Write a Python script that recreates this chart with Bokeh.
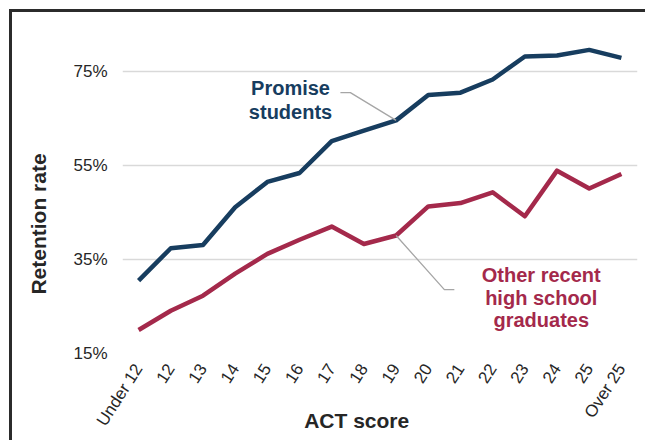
import math
from bokeh.plotting import figure
from bokeh.models import FactorRange, Range1d, FixedTicker, CustomJSTickFormatter
from bokeh.core.properties import value
from bokeh.embed import file_html
from bokeh.resources import INLINE

categories = ["Under 12", "12", "13", "14", "15", "16", "17", "18", "19",
              "20", "21", "22", "23", "24", "25", "Over 25"]
promise = [30.5, 37.4, 38.1, 46.1, 51.5, 53.4, 60.2, 62.4, 64.6,
           70.0, 70.5, 73.3, 78.2, 78.4, 79.6, 77.9]
others = [20.0, 24.1, 27.3, 32.0, 36.2, 39.2, 42.0, 38.3, 40.1,
          46.3, 47.0, 49.3, 44.2, 53.9, 50.1, 53.2]
y_ticks = [15, 35, 55, 75]

NAVY = "#173d5f"
RED = "#a4294b"
FONT = "Liberation Sans"
NB = "\u00a0"

p = figure(x_range=FactorRange(*categories, range_padding=0),
           y_range=Range1d(15, 85),
           width=645, height=440,
           output_backend="svg", toolbar_location=None,
           min_border_left=122, min_border_right=8,
           min_border_top=24, min_border_bottom=87)
p.styles = {
    "overflow": "hidden",
    "background": ("linear-gradient(#2b2b2b,#2b2b2b) 9px 9px / 3px 100% no-repeat, "
                   "linear-gradient(#2b2b2b,#2b2b2b) 9px 9px / 100% 3px no-repeat, white"),
}
p.outline_line_color = None
p.background_fill_color = None
p.border_fill_color = None

p.xgrid.grid_line_color = None
p.ygrid.grid_line_color = "#d9d9d9"
p.ygrid.grid_line_width = 1.5

p.yaxis.ticker = FixedTicker(ticks=y_ticks)
p.yaxis.formatter = CustomJSTickFormatter(code="return tick + '%';")
for ax in (p.xaxis[0], p.yaxis[0]):
    ax.axis_line_color = None
    ax.major_tick_line_color = None
    ax.minor_tick_line_color = None
    ax.major_tick_out = 0
    ax.major_tick_in = 0
    ax.major_label_text_font = FONT
    ax.major_label_text_font_size = "17px"
    ax.major_label_text_color = "#262626"
    ax.axis_label_text_font = FONT
    ax.axis_label_text_font_style = "bold"
    ax.axis_label_text_font_size = "21px"
    ax.axis_label_text_color = "#262626"

p.yaxis.major_label_standoff = 15
p.yaxis.axis_label = "Retention rate" + NB * 12
p.yaxis.axis_label_standoff = 20
p.xaxis.major_label_orientation = 1.0
p.xaxis.major_label_standoff = 12
p.xaxis.axis_label = "ACT score" + NB * 8
p.xaxis.axis_label_standoff = -29

p.line(categories, promise, line_color=NAVY, line_width=4.5, line_join="round")
p.line(categories, others, line_color=RED, line_width=4.5, line_join="round")

# leader lines (numeric synthetic x coordinates on the categorical axis)
i19 = categories.index("19") + 0.5
p.line([6.77, 7.08, i19], [70.5, 70.5, promise[8]], line_color="#a6a6a6", line_width=1.3)
p.line([i19, 10.0, 10.31], [others[8], 28.6, 28.6], line_color="#a6a6a6", line_width=1.3)

p.text(x=[5.22, 5.22], y=[71.4, 66.4], text=["Promise", "students"],
       text_align="center", text_baseline="alphabetic",
       text_font=value(FONT), text_font_style="bold", text_font_size="20px",
       text_color=NAVY)
p.text(x=[13.01, 13.01, 13.01], y=[31.6, 26.9, 22.2],
       text=["Other recent", "high school", "graduates"],
       text_align="center", text_baseline="alphabetic",
       text_font=value(FONT), text_font_style="bold", text_font_size="20px",
       text_color=RED)

open("out.html", "w").write(file_html(p, INLINE))
